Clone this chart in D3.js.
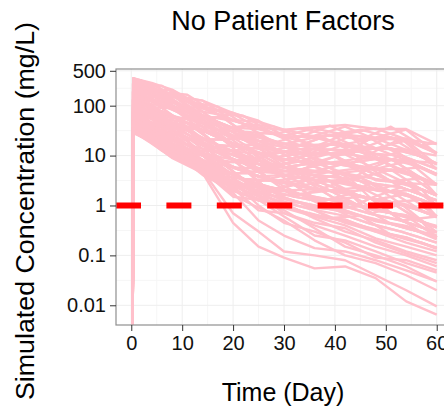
<!DOCTYPE html>
<html><head><meta charset="utf-8">
<script src="https://cdn.jsdelivr.net/npm/d3@7"></script>
<style>body{margin:0;background:#fff}svg{display:block}</style>
</head><body>
<svg id="chart" width="444" height="411"></svg>
<script>
// ---- data ----
const title = "No Patient Factors";
const xTitle = "Time (Day)";
const yTitle = "Simulated Concentration (mg/L)";
const startDay = 0.25;     // dose time: concentration rises from ~0
const startConc = 0.001;
const days = [0.45, 4, 8, 14, 20, 25, 30, 36, 42, 48, 54, 60];
const bandSeries = [
  [350, 285, 210, 95, 72, 48, 33, 37, 41, 34, 34, 17],
  [270, 280, 160, 126, 50, 36, 33, 24, 27, 35, 21, 17],
  [340, 215, 165, 88, 52, 47, 25, 35, 26, 23, 33, 11],
  [215, 210, 205, 90, 68, 36, 23, 25, 38, 21, 22, 11.5],
  [280, 160, 125, 62, 36, 34, 24, 16, 17, 22, 13, 10],
  [170, 165, 170, 65, 34, 25, 17, 23, 16, 14, 13, 7],
  [330, 220, 120, 60, 25, 23, 17, 15, 27, 14, 20, 6.5],
  [135, 125, 90, 63, 24, 17, 12, 11, 11, 14, 8, 7],
  [220, 120, 88, 44, 23, 11, 12, 10, 17, 8.5, 7.8, 4.3],
  [100, 95, 62, 46, 17, 16, 8, 11, 10.5, 5.4, 7.6, 4],
  [165, 90, 65, 32, 17, 11, 8.5, 7, 7, 8.5, 4.8, 2.7],
  [80, 72, 63, 33, 24, 17, 12, 7.3, 6.8, 5.5, 4.6, 2.6],
  [130, 95, 45, 22, 12, 11, 5.8, 7.2, 4.4, 3.4, 2.8, 2.6],
  [275, 165, 90, 32, 17, 8, 5.7, 4.9, 7, 3.2, 2.8, 1.6],
  [62, 55, 46, 22, 12, 8, 5.9, 4.7, 4.6, 5.4, 4.7, 1.6],
  [105, 70, 33, 16, 12, 5.5, 4.1, 3.2, 2.9, 2.1, 1.7, 1],
  [215, 125, 64, 22, 8.3, 5.4, 4, 3.3, 3, 2, 1.7, 0.95],
  [48, 41, 33, 16, 8.5, 5.6, 5.8, 3.2, 4.5, 2.1, 2.8, 1],
  [82, 54, 34, 11, 5.8, 3.8, 2.9, 3.2, 1.9, 1.3, 1, 0.6],
  [130, 70, 46, 16, 8, 3.7, 2.9, 2.1, 1.9, 1.3, 1, 0.62],
  [39, 31, 24, 11, 5.7, 3.9, 2.8, 2.1, 1.8, 1.3, 1.05, 0.58],
  [64, 40, 25, 10.5, 4.2, 2.5, 2.1, 1.35, 1.25, 0.78, 0.64, 0.36],
  [168, 95, 32, 11.5, 4, 2.7, 1.95, 1.45, 1.15, 0.84, 0.58, 0.39],
  [48, 32, 16.5, 8.1, 4.2, 2.55, 2.05, 1.38, 1.22, 0.8, 0.63, 0.36],
  [31, 22, 12.5, 7.5, 4.3, 2.5, 1.45, 0.9, 0.8, 0.5, 0.39, 0.22],
  [80, 43, 23, 8.2, 2.8, 1.9, 1.35, 1, 0.75, 0.53, 0.35, 0.25],
  [38, 24, 11.5, 5.8, 3, 1.75, 1.45, 0.92, 0.8, 0.48, 0.38, 0.21],
  [30, 17.5, 9.2, 5.4, 3, 1.25, 1.05, 0.6, 0.52, 0.31, 0.23, 0.135],
  [50, 22, 12.5, 4.1, 1.95, 1.35, 0.95, 0.65, 0.48, 0.33, 0.21, 0.145],
  [100, 55, 23, 5.4, 2.1, 1.25, 1.02, 0.62, 0.52, 0.3, 0.23, 0.14],
  [345, 275, 160, 63, 35, 17, 12, 7.2, 6.9, 3.3, 2.8, 1.6],
  [31, 23, 17, 11, 8.3, 7.9, 5.8, 7.2, 11, 8.6, 7.8, 4.2],
  [63, 31, 17, 5.6, 2.9, 1.8, 2, 2.1, 1.9, 2.1, 1.7, 0.98],
  [217, 162, 124, 45, 17, 7.9, 4.1, 2.1, 1.9, 0.81, 0.62, 0.23],
  [39, 31, 17, 7.9, 5.8, 5.5, 4.1, 4.8, 6.9, 8.6, 13, 6.8],
  [277, 214, 160, 126, 71, 50, 24, 24, 17, 8.6, 4.7, 2.6],
  [170, 123, 120, 63, 35, 24, 17, 16, 17, 14, 13, 6.8],
  [132, 93, 89, 45, 24, 24, 17, 11, 11, 8.6, 7.8, 4.2],
  [104, 71, 46, 32, 17, 11, 12, 11, 11, 14, 13, 6.8],
  [277, 214, 124, 63, 50, 35, 24, 24, 26, 22, 21, 11],
  [217, 162, 89, 45, 17, 11, 5.8, 7.2, 6.9, 5.4, 2.8, 1.6],
  [63, 41, 33, 16, 5.8, 3.8, 4.1, 3.2, 1.9, 1.3, 1.7, 0.6]
];
// second group of simulated patients, sampled on a shifted day grid
const days2 = [0.4, 2, 6, 11, 17, 22, 28, 33, 39, 45, 51, 57, 60];
const bandSeries2 = [
  [355, 245, 251, 120, 95, 43, 38, 23.5, 40, 21, 38, 16, 18],
  [277, 316, 186, 166, 67, 63, 27, 35, 26, 33, 23, 16, 11],
  [217, 245, 138, 87, 67, 30, 27, 16, 26, 13.7, 23, 9.7, 6.8],
  [170, 189, 138, 62, 33, 30, 13, 16, 11, 13.7, 8.5, 5.8, 4.2],
  [132, 112, 102, 62, 23, 14.6, 13, 7.6, 11, 5.6, 8.5, 3.5, 2.6],
  [103, 112, 56, 45, 16.3, 14.6, 6.4, 7.6, 4.7, 5.6, 3.1, 3.5, 2.6],
  [81, 67, 56, 32, 11.5, 10.2, 4.5, 5.2, 3.1, 3.6, 1.9, 2.1, 0.98],
  [63, 67, 31, 23, 8.1, 7.1, 3.1, 3.6, 2, 2.3, 1.16, 1.3, 0.6],
  [49, 40, 31, 12, 8.1, 3.4, 3.1, 1.7, 2, 0.96, 1.16, 0.48, 0.37],
  [38, 40, 17, 12, 4, 3.4, 1.55, 1.7, 0.85, 0.96, 0.43, 0.29, 0.23],
  [30, 31, 12.6, 8.7, 2.8, 2.4, 1.1, 1.16, 0.56, 0.62, 0.26, 0.18, 0.14],
  [355, 316, 186, 87, 47, 21, 9.2, 7.6, 4.7, 3.6, 1.9, 1.3, 0.98],
  [277, 189, 138, 62, 23, 14.6, 6.4, 5.2, 3.1, 1.5, 1.16, 0.48, 0.37],
  [49, 52, 42, 32, 16.3, 14.6, 9.2, 11, 11, 13.7, 14, 9.7, 6.8],
  [103, 87, 76, 45, 33, 21, 18.6, 16, 26, 21, 23, 16, 11],
  [217, 145, 102, 62, 23, 14.6, 13, 11, 17, 13.7, 14, 5.8, 4.2],
  [170, 112, 76, 32, 16.3, 10.2, 6.4, 7.6, 7.2, 8.8, 8.5, 3.5, 2.6],
  [81, 52, 31, 16.6, 8.1, 4.9, 4.5, 3.6, 4.7, 3.6, 5.2, 2.1, 1.6],
  [132, 87, 42, 23, 11.5, 7.1, 3.1, 2.5, 2, 0.96, 0.71, 0.48, 0.23],
  [63, 52, 23, 12, 5.7, 2.4, 1.55, 1.16, 0.85, 0.62, 0.43, 0.29, 0.23],
  [38, 31, 17, 8.7, 4, 2.4, 2.2, 1.7, 1.3, 1.5, 1.16, 0.79, 0.6],
  [170, 145, 76, 45, 16.3, 10.2, 4.5, 3.6, 2, 1.5, 1.16, 0.79, 0.6],
  [277, 245, 186, 120, 47, 30, 18.6, 11, 11, 5.6, 5.2, 3.5, 1.6],
  [103, 67, 42, 16.6, 8.1, 3.4, 2.2, 1.7, 1.3, 0.96, 0.71, 0.29, 0.23],
  [30, 24, 17, 8.7, 5.7, 3.4, 3.1, 2.5, 3.1, 2.3, 1.9, 1.3, 0.98],
  [217, 189, 186, 120, 67, 43, 18.6, 16, 17, 13.7, 14, 9.7, 6.8],
  [132, 145, 102, 87, 33, 21, 13, 11, 7.2, 5.6, 3.1, 2.1, 1.6],
  [49, 40, 23, 16.6, 11.5, 7.1, 6.4, 5.2, 7.2, 5.6, 5.2, 5.8, 4.2],
  [355, 245, 186, 87, 33, 14.6, 9.2, 5.2, 4.7, 2.3, 1.9, 0.79, 0.6],
  [63, 40, 23, 8.7, 4, 1.66, 1.1, 0.79, 0.56, 0.4, 0.26, 0.18, 0.14]
];
// third group, on another day grid
const days3 = [0.35, 3, 9, 13, 18, 23, 27, 32, 37, 43, 47, 53, 60];
const bandSeries3 = [
  [44, 45, 13, 12.6, 4.3, 4.5, 2, 2.6, 1.2, 1.7, 0.68, 1.07, 0.29],
  [63, 30, 21, 7.6, 7.2, 2.6, 3.4, 1.5, 2.1, 0.9, 1.4, 0.5, 0.6],
  [91, 67, 21, 21, 7.2, 7.8, 3.4, 4.5, 2.1, 3.4, 1.4, 2.3, 1.26],
  [132, 67, 34, 21, 12.3, 7.8, 5.8, 4.5, 4, 3.4, 2.8, 2.3, 1.26],
  [91, 100, 55, 21, 21, 7.8, 10, 4.5, 7.3, 3.4, 5.5, 2.3, 1.26],
  [191, 100, 55, 35, 21, 13.5, 10, 7.8, 7.3, 6.6, 5.5, 4.8, 2.6],
  [132, 151, 55, 57, 21, 23, 10, 13.5, 7.3, 12.6, 5.5, 10, 2.6],
  [277, 151, 89, 57, 35, 23, 17, 13.5, 13.5, 12.6, 11, 10, 5.4],
  [191, 224, 89, 93, 35, 40, 17, 23.5, 13.5, 24.5, 11, 22, 5.4],
  [34, 23, 13, 7.6, 4.3, 4.5, 3.4, 2.6, 4, 3.4, 2.8, 2.3, 1.26],
  [44, 30, 9.3, 5.4, 3, 2.6, 2, 1.5, 1.2, 0.9, 0.68, 0.5, 0.29],
  [34, 30, 9.3, 7.6, 3, 1.8, 1.4, 1.02, 0.78, 0.59, 0.43, 0.3, 0.18],
  [63, 45, 21, 12.6, 7.2, 4.5, 3.4, 2.6, 2.1, 1.7, 1.4, 1.07, 0.6],
  [277, 224, 89, 35, 12.3, 7.8, 3.4, 2.6, 2.1, 0.9, 0.68, 0.5, 0.29],
  [63, 67, 34, 35, 21, 23, 17, 13.5, 13.5, 12.6, 22, 22, 11],
  [132, 100, 34, 21, 7.2, 4.5, 2, 1.5, 1.2, 0.59, 0.43, 0.3, 0.18],
  [91, 67, 34, 35, 12.3, 13.5, 5.8, 7.8, 7.3, 6.6, 11, 4.8, 2.6],
  [191, 151, 145, 57, 60, 23, 30, 23.5, 25, 12.6, 22, 10, 5.4],
  [44, 45, 34, 12.6, 12.3, 4.5, 5.8, 2.6, 4, 1.7, 2.8, 1.07, 0.6],
  [63, 30, 13, 12.6, 4.3, 4.5, 2, 2.6, 1.2, 0.9, 1.4, 0.5, 0.29],
  [91, 45, 21, 12.6, 12.3, 7.8, 5.8, 4.5, 7.3, 6.6, 5.5, 4.8, 2.6],
  [132, 67, 55, 21, 21, 13.5, 17, 7.8, 13.5, 6.6, 11, 4.8, 2.6]
];
const lowSeries = [
  [30, 18, 9, 4.5, 0.45, 0.15, 0.09, 0.055, 0.06, 0.035, 0.012, 0.0065],
  [40, 20, 10, 5, 0.7, 0.3, 0.12, 0.1, 0.08, 0.04, 0.02, 0.0095],
  [45, 25, 11, 6, 1.6, 0.9, 0.5, 0.2, 0.1, 0.07, 0.04, 0.02],
  [50, 28, 14, 7, 2.5, 1.5, 0.8, 0.35, 0.15, 0.1, 0.06, 0.03],
  [33, 20, 11, 5, 1.5, 1.3, 0.6, 0.25, 0.2, 0.12, 0.07, 0.045],
  [60, 30, 15, 6, 3, 1, 0.45, 0.3, 0.18, 0.09, 0.08, 0.05],
  [38, 24, 12, 8, 2.2, 0.8, 0.7, 0.4, 0.25, 0.15, 0.1, 0.06],
  [55, 35, 18, 8, 3.5, 1.8, 1.1, 0.55, 0.3, 0.2, 0.12, 0.08],
  [42, 26, 13, 6.5, 2.8, 2, 0.9, 0.6, 0.4, 0.22, 0.15, 0.1],
  [70, 40, 20, 10, 4, 2.2, 1.2, 0.8, 0.45, 0.3, 0.18, 0.12],
  [28, 19, 10, 5, 1.8, 0.5, 0.25, 0.14, 0.12, 0.08, 0.05, 0.03],
  [48, 30, 16, 7.5, 3, 1.6, 0.7, 0.45, 0.35, 0.18, 0.11, 0.07]
];
const threshold = 1;
const xTicks = [0, 10, 20, 30, 40, 50, 60];
const xMinor = [5, 15, 25, 35, 45, 55];
const yTicks = [0.01, 0.1, 1, 10, 100, 500];
const yTickLabels = ["0.01", "0.1", "1", "10", "100", "500"];
const yMinor = [0.0316, 0.316, 3.16, 31.6, 223.6];

// ---- layout ----
const P = {left: 116, right: 452, top: 69, bottom: 325};
const FONT = "Liberation Sans, Arial, Helvetica, sans-serif";
const svg = d3.select("#chart");
const x = d3.scaleLinear().domain([-3, 63]).range([P.left, P.right]);
const y = d3.scaleLog().domain([Math.pow(10, -2.395), Math.pow(10, 2.735)]).range([P.bottom, P.top]);

svg.append("defs").append("clipPath").attr("id", "clip")
  .append("rect").attr("x", P.left).attr("y", P.top)
  .attr("width", P.right - P.left).attr("height", P.bottom - P.top);

// grid
const grid = svg.append("g");
grid.selectAll(".gxm").data(xMinor).join("line")
  .attr("x1", d => x(d)).attr("x2", d => x(d)).attr("y1", P.top).attr("y2", P.bottom)
  .attr("stroke", "#f6f6f6").attr("stroke-width", 1);
grid.selectAll(".gym").data(yMinor).join("line")
  .attr("y1", d => y(d)).attr("y2", d => y(d)).attr("x1", P.left).attr("x2", P.right)
  .attr("stroke", "#f6f6f6").attr("stroke-width", 1);
grid.selectAll(".gx").data(xTicks).join("line")
  .attr("x1", d => x(d)).attr("x2", d => x(d)).attr("y1", P.top).attr("y2", P.bottom)
  .attr("stroke", "#eeeeee").attr("stroke-width", 1);
grid.selectAll(".gy").data(yTicks).join("line")
  .attr("y1", d => y(d)).attr("y2", d => y(d)).attr("x1", P.left).attr("x2", P.right)
  .attr("stroke", "#eeeeee").attr("stroke-width", 1);

// lines
const toPts = (grid, vals) =>
  [{t: startDay, c: startConc}].concat(vals.map((v, i) => ({t: grid[i], c: v})));
const allSeries = bandSeries.map(v => toPts(days, v))
  .concat(bandSeries2.map(v => toPts(days2, v)))
  .concat(bandSeries3.map(v => toPts(days3, v)))
  .concat(lowSeries.map(v => toPts(days, v)));
const line = d3.line().x(d => x(d.t)).y(d => y(d.c));
svg.append("g").attr("clip-path", "url(#clip)")
  .selectAll("path").data(allSeries).join("path")
  .attr("d", line).attr("fill", "none")
  .attr("stroke", "#FFC0CB").attr("stroke-width", 2.4)
  .attr("stroke-linejoin", "round");

// threshold
svg.append("line").attr("clip-path", "url(#clip)")
  .attr("x1", P.left).attr("x2", P.right)
  .attr("y1", y(threshold)).attr("y2", y(threshold))
  .attr("stroke", "#FF0000").attr("stroke-width", 6)
  .attr("stroke-dasharray", "25,25.4");

// border
svg.append("rect").attr("x", P.left).attr("y", P.top)
  .attr("width", P.right - P.left).attr("height", P.bottom - P.top)
  .attr("fill", "none").attr("stroke", "#8f8f8f").attr("stroke-width", 1.2);

// axes
const xAxis = svg.append("g").attr("transform", `translate(0,${P.bottom})`)
  .call(d3.axisBottom(x).tickValues(xTicks).tickSize(6).tickPadding(5).tickFormat(d3.format("d")));
const yAxis = svg.append("g").attr("transform", `translate(${P.left},0)`)
  .call(d3.axisLeft(y).tickValues(yTicks).tickSize(6).tickPadding(4)
    .tickFormat((d, i) => yTickLabels[i]));
[xAxis, yAxis].forEach(a => {
  a.select(".domain").remove();
  a.selectAll(".tick line").attr("stroke", "#333");
  a.selectAll("text").attr("fill", "#111").style("font-family", FONT).style("font-size", "20px");
});

// titles
svg.append("text").attr("x", 283).attr("y", 30).attr("text-anchor", "middle")
  .style("font-family", FONT).style("font-size", "27px").attr("fill", "#000").text(title);
svg.append("text").attr("x", 283).attr("y", 401).attr("text-anchor", "middle")
  .style("font-family", FONT).style("font-size", "25px").attr("fill", "#000").text(xTitle);
svg.append("text").attr("transform", "translate(34,211) rotate(-90)").attr("text-anchor", "middle")
  .style("font-family", FONT).style("font-size", "25px").attr("fill", "#000")
  .attr("textLength", 378).attr("lengthAdjust", "spacingAndGlyphs").text(yTitle);
</script>
</body></html>
